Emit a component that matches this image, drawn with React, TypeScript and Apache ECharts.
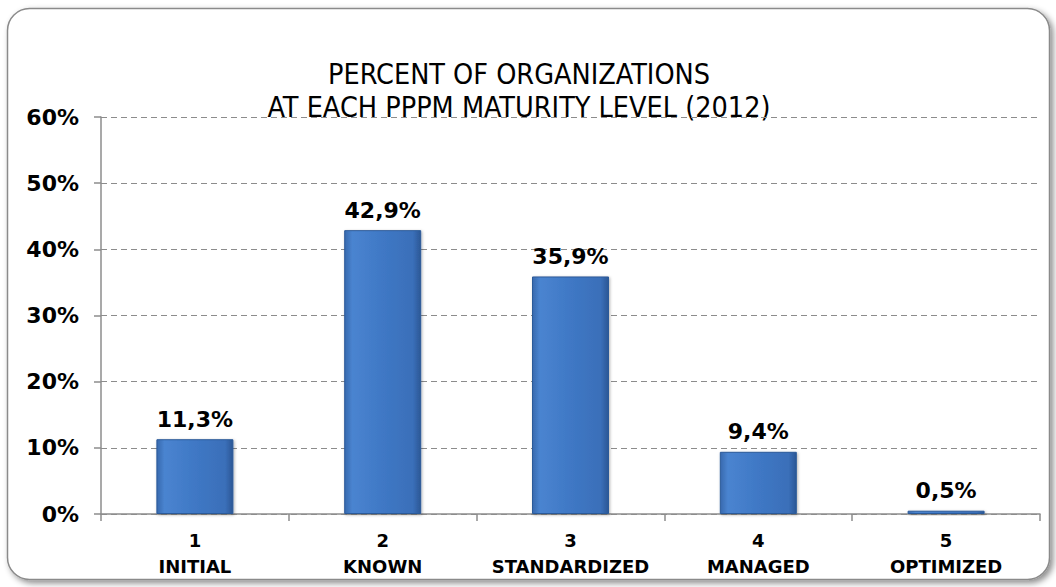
import React, { useEffect, useRef } from "react";
import * as echarts from "echarts";

const levelNumbers = ["1", "2", "3", "4", "5"];
const levelNames = ["INITIAL", "KNOWN", "STANDARDIZED", "MANAGED", "OPTIMIZED"];
const percentValues = [11.3, 42.9, 35.9, 9.4, 0.5];
const yTicks = [0, 10, 20, 30, 40, 50, 60];
const titleLines = ["PERCENT OF ORGANIZATIONS", "AT EACH PPPM MATURITY LEVEL (2012)"];

export default function App() {
  const ref = useRef<HTMLDivElement>(null);
  useEffect(() => {
    if (!ref.current) return;
    const chart = echarts.init(ref.current, undefined, { renderer: "svg" });
    const categories = levelNumbers.map((n, i) => n + "\n" + levelNames[i]);
    const barColor = new echarts.graphic.LinearGradient(0, 0, 1, 0, [
      { offset: 0, color: "#3769ae" },
      { offset: 0.1, color: "#4a84d0" },
      { offset: 0.5, color: "#3f78c5" },
      { offset: 0.9, color: "#3a6fb9" },
      { offset: 1, color: "#2b5795" },
    ]);
    chart.setOption({
      animation: false,
      backgroundColor: "#ffffff",
      graphic: [
        {
          type: "rect",
          z: -10,
          silent: true,
          shape: { x: 7.5, y: 8.5, width: 1042, height: 571, r: 22 },
          style: {
            fill: "#ffffff",
            stroke: "#8a8a8a",
            lineWidth: 1.5,
            shadowBlur: 6,
            shadowOffsetX: 3,
            shadowOffsetY: 3,
            shadowColor: "rgba(0,0,0,0.45)",
          },
        },
        {
          type: "text",
          x: 519,
          y: 58,
          silent: true,
          style: {
            text: titleLines.join("\n"),
            fontFamily: "DejaVu Sans Condensed, DejaVu Sans, sans-serif",
            fontWeight: "normal",
            fontSize: 28.5,
            lineHeight: 33,
            fill: "#000000",
            align: "center",
            verticalAlign: "top",
          },
        },
      ],
      grid: { left: 101, right: 16, top: 117, bottom: 73, containLabel: false },
      xAxis: {
        type: "category",
        data: categories,
        axisLine: { lineStyle: { color: "#8c8c8c", width: 1.5 } },
        axisTick: { show: true, interval: 0, length: 7, lineStyle: { color: "#8c8c8c", width: 1.5 } },
        axisLabel: {
          interval: 0,
          margin: 13,
          fontFamily: "DejaVu Sans, sans-serif",
          fontWeight: "bold",
          fontSize: 18,
          color: "#000000",
          lineHeight: 26,
        },
      },
      yAxis: {
        type: "value",
        min: 0,
        max: 60,
        interval: 10,
        axisLine: { show: true, lineStyle: { color: "#8c8c8c", width: 1.5 } },
        axisTick: { show: true, length: 7, lineStyle: { color: "#8c8c8c", width: 1.5 } },
        splitLine: { show: true, lineStyle: { color: "#8c8c8c", type: [6, 4], width: 1 } },
        axisLabel: {
          margin: 22,
          fontFamily: "DejaVu Sans, sans-serif",
          fontWeight: "bold",
          fontSize: 22,
          color: "#000000",
          formatter: (v: number) => (yTicks.includes(v) ? v + "%" : ""),
        },
      },
      series: [
        {
          type: "bar",
          data: percentValues,
          barWidth: 77,
          itemStyle: {
            color: barColor,
            borderColor: "#2c5a99",
            borderWidth: 1,
            shadowBlur: 3,
            shadowOffsetX: 1,
            shadowOffsetY: 1,
            shadowColor: "rgba(0,0,0,0.3)",
          },
          label: {
            show: true,
            position: "top",
            distance: 9,
            fontFamily: "DejaVu Sans, sans-serif",
            fontWeight: "bold",
            fontSize: 22,
            color: "#000000",
            formatter: (p: any) => String(p.value.toFixed(1)).replace(".", ",") + "%",
          },
        },
      ],
    });
    return () => chart.dispose();
  }, []);
  return (
    <div
      ref={ref}
      style={{ position: "fixed", left: 0, top: 0, width: 1056, height: 587 }}
    />
  );
}
